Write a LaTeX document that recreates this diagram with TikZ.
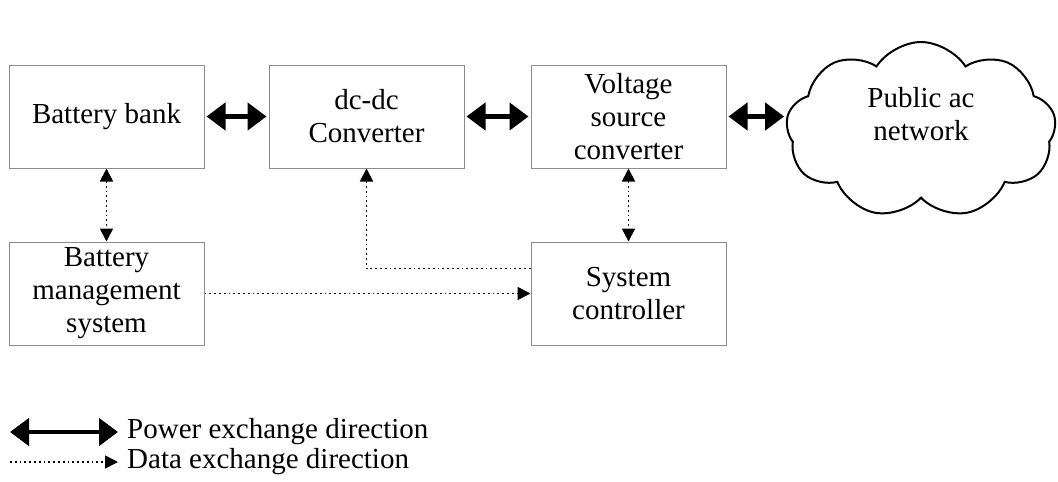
\documentclass[tikz,border=0pt]{standalone}
\usepackage{fontspec}
\setmainfont{Liberation Serif}
\usetikzlibrary{arrows.meta,positioning,shapes.symbols}

\begin{document}
\begin{tikzpicture}[
  x=1pt, y=1pt,
  node distance=73pt and 64pt,
  box/.style={draw=black!45, line width=1pt, minimum width=195pt, minimum height=103pt, align=center, inner sep=2pt, font=\fontsize{29}{33}\selectfont},
  txt/.style={inner sep=0pt, font=\fontsize{29}{33}\selectfont},
  power/.style={{Triangle[length=19pt,width=27pt]}-{Triangle[length=19pt,width=27pt]}, line width=4.5pt, shorten >=2pt, shorten <=2pt},
  data/.style={-{Triangle[length=13pt,width=13pt]}, dash pattern=on 1.8pt off 3pt, line width=1.8pt},
  data2/.style={data, {Triangle[length=13pt,width=13pt]}-{Triangle[length=13pt,width=13pt]}},
]
  \useasboundingbox (0,0) rectangle (1058,-482);

  % top row
  \node[box] (bank) at (106.5,-116.5) {Battery bank};
  \node[box, right=of bank] (dcdc) {dc-dc\\Converter};
  \node[box, right=66pt of dcdc] (vsc) {Voltage\\source\\converter};
  \node[cloud, draw, line width=2pt, cloud puffs=9, cloud puff arc=115, aspect=1.55, minimum width=270pt, minimum height=176pt,
        label={[txt, align=center, yshift=16pt]center:{Public ac\\network}}] (grid) at (921,-130) {};

  % bottom row
  \node[box, below=of bank] (bms) {Battery\\management\\system};
  \node[box, below=of vsc] (ctrl) {System\\controller};

  % power flow
  \draw[power] (bank) -- (dcdc);
  \draw[power] (dcdc) -- (vsc);
  \draw[power] (vsc.east) -- (grid.west |- vsc.east);

  % data flow
  \draw[data2] (bank) -- (bms);
  \draw[data2] (vsc) -- (ctrl);
  \draw[data] (bms) -- (ctrl);
  \draw[data] ([yshift=25pt]ctrl.west) -| (dcdc.south);

  % legend
  \coordinate (pw1) at (10,-432);
  \coordinate (pw2) at (118,-432);
  \coordinate (dt1) at (10,-462);
  \coordinate (dt2) at (118,-462);
  \draw[power, shorten >=0pt, shorten <=0pt] (pw1) -- (pw2);
  \draw[data] (dt1) -- (dt2);
  \node[txt, right=9pt of pw2] (pwlbl) {Power exchange direction};
  \node[txt, right=9pt of dt2] (dtlbl) {Data exchange direction};
\end{tikzpicture}
\end{document}
